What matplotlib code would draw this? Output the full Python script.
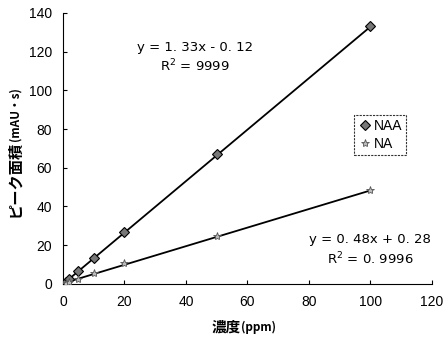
import matplotlib
matplotlib.use('Agg')
import matplotlib.pyplot as plt

plt.rcParams['font.family'] = ['Noto Sans CJK JP', 'DejaVu Sans']

# Calibration data
conc = [1, 2, 5, 10, 20, 50, 100]
naa_area = [1.2, 2.5, 6.5, 13.3, 26.6, 67.0, 133.0]
na_area = [0.6, 1.2, 2.7, 5.5, 11.0, 24.5, 48.5]

naa_fit = (1.33, -0.12)
na_fit = (0.48, 0.28)

fig = plt.figure(figsize=(4.43, 3.4), dpi=100)
ax = fig.add_axes([0.142, 0.165, 0.833, 0.797])

fit_x = [conc[0], conc[-1]]
ax.plot(fit_x, [naa_fit[0] * v + naa_fit[1] for v in fit_x], color='black', lw=1.3, zorder=2)
ax.plot(fit_x, [na_fit[0] * v + na_fit[1] for v in fit_x], color='black', lw=1.3, zorder=2)

ax.plot(conc, naa_area, linestyle='none', marker='D', ms=5, mfc='#777777',
        mec='black', mew=0.8, label='NAA', zorder=3)
ax.plot(conc, na_area, linestyle='none', marker='*', ms=6, mfc='#bbbbbb',
        mec='#555555', mew=0.6, label='NA', zorder=3)

ax.set_xlim(0, 120)
ax.set_ylim(0, 140)
ax.set_xticks(range(0, 121, 20))
ax.set_yticks(range(0, 141, 20))
ax.tick_params(direction='in', length=3, labelsize=10, pad=8)
for lbl in ax.get_xticklabels() + ax.get_yticklabels():
    lbl.set_family('Liberation Sans')
ax.spines['top'].set_visible(False)
ax.spines['right'].set_visible(False)

# axis labels: big kanji/kana part, smaller unit part
renderer = fig.canvas.get_renderer()
inv = fig.transFigure.inverted()

t1 = fig.text(0.032, 0.362, 'ピーク面積', rotation=90, ha='center', va='bottom',
              fontsize=11, fontweight='bold')
bb = inv.transform(t1.get_window_extent(renderer))
fig.text(0.034, bb[1][1], '(mAU・s)', rotation=90, ha='center', va='bottom',
         fontsize=8.5, fontweight='bold')

t2 = fig.text(0.478, 0.038, '濃度', ha='left', va='center', fontsize=10.5, fontweight='bold')
bb = inv.transform(t2.get_window_extent(renderer))
fig.text(bb[1][0], 0.036, '(ppm)', ha='left', va='center', fontsize=8.5, fontweight='bold')

eq_font = dict(ha='center', va='center', fontsize=9.5, family='DejaVu Sans')
ax.text(43, 122, 'y = 1. 33x - 0. 12', **eq_font)
ax.text(43, 112.5, 'R$^2$ = 9999', **eq_font)
ax.text(100, 23, 'y = 0. 48x + 0. 28', **eq_font)
ax.text(100, 13, 'R$^2$ = 0. 9996', **eq_font)

leg = ax.legend(loc='upper left', bbox_to_anchor=(0.77, 0.65),
                prop={'family': 'Liberation Sans', 'size': 10},
                handletextpad=0.1, handlelength=1.0, borderpad=0.3,
                labelspacing=0.3, fancybox=False, edgecolor='black')
leg.get_frame().set_linestyle((0, (2, 1)))
leg.get_frame().set_linewidth(0.8)

fig.savefig('out.png', dpi=100)
